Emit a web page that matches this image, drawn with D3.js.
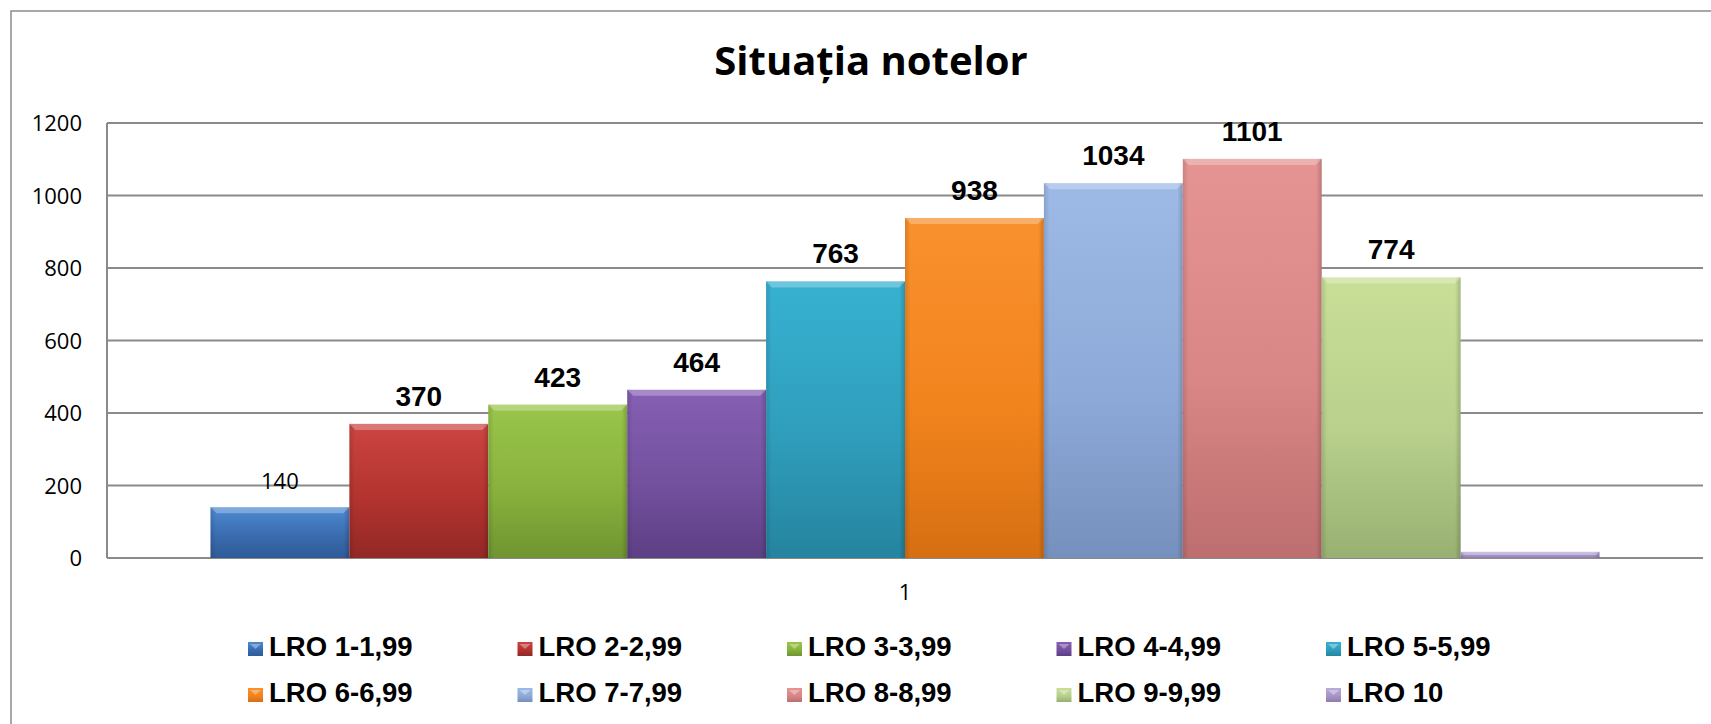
<!DOCTYPE html>
<html>
<head>
<meta charset="utf-8">
<script src="https://cdn.jsdelivr.net/npm/d3@7"></script>
<style>
  html, body { margin: 0; padding: 0; background: #fff; }
  svg { display: block; }
</style>
</head>
<body>
<svg id="chart" width="1711" height="724"></svg>
<script>
// ---- data ----
const categories = ["1"];
const series = ["LRO 1-1,99", "LRO 2-2,99", "LRO 3-3,99", "LRO 4-4,99", "LRO 5-5,99",
                "LRO 6-6,99", "LRO 7-7,99", "LRO 8-8,99", "LRO 9-9,99", "LRO 10"];
const values = [140, 370, 423, 464, 763, 938, 1034, 1101, 774, 17];
const showLabel = [true, true, true, true, true, true, true, true, true, false];
const yTicks = [0, 200, 400, 600, 800, 1000, 1200];
const title = "Situația notelor";

// ---- styles ----
const colors = [
  ["#4d8ad2", "#3a6cb0", "#2f5b98"],
  ["#cc4541", "#b3332f", "#922826"],
  ["#9ac54b", "#88b23d", "#6f9431"],
  ["#855fb3", "#74519f", "#5d3f84"],
  ["#37b1d1", "#2f9ebc", "#25849f"],
  ["#f9912e", "#f2841d", "#d66f12"],
  ["#9dbae6", "#8eaad8", "#7690bd"],
  ["#e59393", "#d98686", "#bd6e6e"],
  ["#c9df98", "#b8d08c", "#98b072"],
  ["#bcaadb", "#a895c8", "#8f7db0"]
];

const svg = d3.select("#chart");
const W = 1711, H = 724;
const plot = { left: 107, right: 1703, top: 123, bottom: 558 };

// outer border
svg.append("rect")
  .attr("x", 11).attr("y", 11).attr("width", W + 20).attr("height", H + 20)
  .attr("fill", "#fff").attr("stroke", "#8c8c8c").attr("stroke-width", 1.5);

// title
svg.append("text")
  .attr("x", 871).attr("y", 75)
  .attr("text-anchor", "middle")
  .attr("font-family", "'Open Sans', 'Noto Sans', sans-serif")
  .attr("font-weight", 700)
  .attr("font-size", 40)
  .attr("fill", "#000")
  .text(title);

const y = d3.scaleLinear().domain([0, 1200]).range([plot.bottom, plot.top]);
const x0 = d3.scaleBand().domain(categories).range([plot.left, plot.right])
  .paddingInner(0).paddingOuter(0.0745);
const x1 = d3.scaleBand().domain(series).range([0, x0.bandwidth()]).padding(0);

// gridlines
svg.append("g").selectAll("line").data(yTicks).join("line")
  .attr("x1", plot.left).attr("x2", plot.right)
  .attr("y1", d => y(d)).attr("y2", d => y(d))
  .attr("stroke", "#8a8a8a").attr("stroke-width", 2);

// vertical axis line
svg.append("line")
  .attr("x1", plot.left).attr("x2", plot.left)
  .attr("y1", plot.top).attr("y2", plot.bottom)
  .attr("stroke", "#8a8a8a").attr("stroke-width", 2);

// y axis labels
const yAxis = d3.axisLeft(y).tickValues(yTicks).tickSize(0).tickPadding(0).tickFormat(d3.format("d"));
const gy = svg.append("g").attr("transform", `translate(${82},0)`).call(yAxis);
gy.select(".domain").remove();
gy.selectAll("text")
  .attr("font-family", "'Open Sans', 'Noto Sans', sans-serif")
  .attr("font-size", 22)
  .attr("fill", "#000")
  .attr("dy", "0.36em");

// x axis label
const xAxis = d3.axisBottom(x0).tickSize(0).tickPadding(0);
const gx = svg.append("g").attr("transform", `translate(0,${plot.bottom})`).call(xAxis);
gx.select(".domain").remove();
gx.selectAll("text")
  .attr("font-family", "'Open Sans', 'Noto Sans', sans-serif")
  .attr("font-size", 22)
  .attr("fill", "#000")
  .attr("y", 42).attr("dy", 0);

// gradients
const defs = svg.append("defs");
colors.forEach((c, i) => {
  const g = defs.append("linearGradient").attr("id", "grad" + i)
    .attr("x1", 0).attr("y1", 0).attr("x2", 0).attr("y2", 1);
  g.append("stop").attr("offset", "0%").attr("stop-color", c[0]);
  g.append("stop").attr("offset", "55%").attr("stop-color", c[1]);
  g.append("stop").attr("offset", "100%").attr("stop-color", c[2]);
  const h = defs.append("linearGradient").attr("id", "side" + i)
    .attr("x1", 0).attr("y1", 0).attr("x2", 1).attr("y2", 0);
  h.append("stop").attr("offset", "0%").attr("stop-color", "#000").attr("stop-opacity", 0.12);
  h.append("stop").attr("offset", "4%").attr("stop-color", "#000").attr("stop-opacity", 0);
  h.append("stop").attr("offset", "96%").attr("stop-color", "#000").attr("stop-opacity", 0);
  h.append("stop").attr("offset", "100%").attr("stop-color", "#000").attr("stop-opacity", 0.18);
});

// bars
const bars = svg.append("g").selectAll("g").data(series.map((s, i) => ({ s, v: values[i], i })))
  .join("g")
  .attr("transform", d => `translate(${x0(categories[0]) + x1(d.s)},0)`);

bars.append("rect")
  .attr("x", 0).attr("width", x1.bandwidth())
  .attr("y", d => y(d.v)).attr("height", d => y(0) - y(d.v))
  .attr("fill", d => `url(#grad${d.i})`);
bars.append("rect")
  .attr("x", 0).attr("width", x1.bandwidth())
  .attr("y", d => y(d.v)).attr("height", d => y(0) - y(d.v))
  .attr("fill", d => `url(#side${d.i})`);
// top bevel highlight
bars.append("path")
  .attr("d", d => {
    const w = x1.bandwidth(), t = y(d.v), b = Math.min(6, (y(0) - y(d.v)) / 2);
    return `M0,${t} L${w},${t} L${w - b},${t + b} L${b},${t + b} Z`;
  })
  .attr("fill", "#fff").attr("fill-opacity", 0.28);

// data labels
bars.filter(d => showLabel[d.i]).append("text")
  .attr("x", x1.bandwidth() / 2)
  .attr("y", d => y(d.v) - 18)
  .attr("text-anchor", "middle")
  .attr("font-family", d => d.i === 0 ? "'Open Sans', 'Noto Sans', sans-serif" : "'Liberation Sans', Arial, sans-serif")
  .attr("font-weight", d => d.i === 0 ? 400 : 700)
  .attr("font-size", d => d.i === 0 ? 22 : 28)
  .attr("fill", "#000")
  .text(d => d.v);

// legend
const legend = svg.append("g");
const items = legend.selectAll("g").data(series.map((s, i) => ({ s, i })))
  .join("g")
  .attr("transform", d => `translate(${248 + (d.i % 5) * 269.5},${d.i < 5 ? 656 : 702})`);
items.append("rect")
  .attr("x", 0).attr("y", -14).attr("width", 15).attr("height", 14)
  .attr("fill", d => `url(#grad${d.i})`);
items.append("path")
  .attr("d", "M2,-12 L13,-12 L7.5,-7 Z")
  .attr("fill", "#fff").attr("fill-opacity", 0.35);
items.append("text")
  .attr("x", 21).attr("y", 0)
  .attr("font-family", "'Liberation Sans', Arial, sans-serif")
  .attr("font-weight", 700)
  .attr("font-size", 27.5)
  .attr("fill", "#000")
  .text(d => d.s);
</script>
</body>
</html>
